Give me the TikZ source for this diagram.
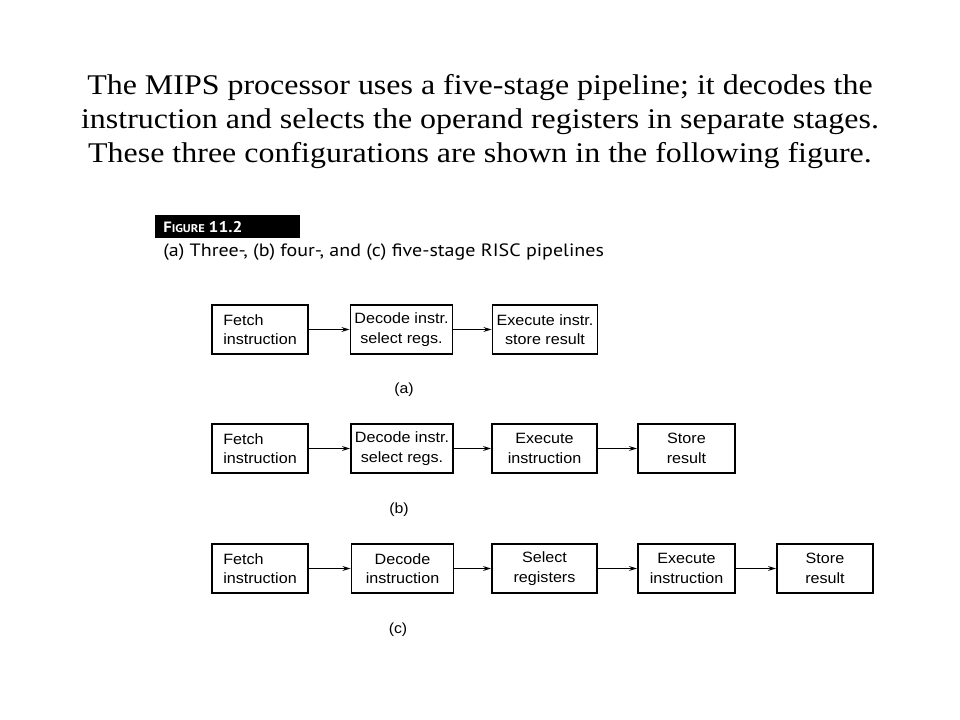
\documentclass[tikz,border=0pt]{standalone}
\usepackage{fontspec}
\setmainfont[FakeStretch=1.12]{Liberation Serif}
\newfontfamily\boxfont[FakeStretch=1.08]{Liberation Sans}
\newfontfamily\capfont[FakeStretch=1.12]{PT Sans}
\usetikzlibrary{arrows.meta}
\begin{document}
\begin{tikzpicture}[x=0.75pt,y=-0.75pt,
  stagebox/.style={draw, line width=1.4pt, inner sep=0pt, minimum height=36.75pt,
    align=center, font=\boxfont\fontsize{11.2pt}{14.5pt}\selectfont},
  c1/.style={stagebox, minimum width=72pt},
  c2/.style={stagebox, minimum width=76.5pt},
  c3/.style={stagebox, minimum width=78.75pt},
  c4/.style={stagebox, minimum width=72.75pt},
  c5/.style={stagebox, minimum width=72pt},
  flow/.style={line width=0.9pt, -{Stealth[length=6pt,width=3.6pt]}},
  sublabel/.style={font=\boxfont\fontsize{11pt}{13pt}\selectfont},
  titleline/.style={font=\fontsize{21.4pt}{25pt}\selectfont, inner sep=0pt}
]
\useasboundingbox (0,0) rectangle (960,720);
\fill[white] (0,0) rectangle (960,720);

% title
\node[titleline] (t1) at (480,88) {The MIPS processor uses a five-stage pipeline; it decodes the};
\node[titleline] (t2) at (480,122) {instruction and selects the operand registers in separate stages.};
\node[titleline] (t3) at (480,156) {These three configurations are shown in the following figure.};

% figure heading
\node[fill=black, minimum width=108.75pt, minimum height=17.25pt, inner sep=0pt] (fighead) at (227,226.5) {};
\node[anchor=west, text=white, font=\capfont\bfseries, inner sep=0pt] (figtext) at (163,227)
  {{\fontsize{11.2pt}{12pt}\selectfont F}{\fontsize{8.4pt}{10pt}\selectfont IGURE}\ {\fontsize{11.6pt}{12pt}\selectfont 11.2}};
\node[anchor=west, inner sep=0pt, font=\capfont\fontsize{13.4pt}{15pt}\selectfont] (caption) at (163,252)
  {(a) Three-, (b) four-, and (c) five-stage RISC pipelines};

% row (a)
\node[c1, align=left] (a1) at (260,329.5) {Fetch\\instruction};
\node[c2] (a2) at (401.5,329.5) {Decode instr.\\select regs.};
\node[c3] (a3) at (545,329.5) {Execute instr.\\store result};
\draw[flow] (a1) -- (a2);
\draw[flow] (a2) -- (a3);
\node[sublabel] (la) at (404,390) {(a)};

% row (b)
\node[c1, align=left] (b1) at (260,448.5) {Fetch\\instruction};
\node[c2] (b2) at (402,448.5) {Decode instr.\\select regs.};
\node[c3] (b3) at (544.5,448.5) {Execute\\instruction};
\node[c4] (b4) at (686.5,448.5) {Store\\result};
\draw[flow] (b1) -- (b2);
\draw[flow] (b2) -- (b3);
\draw[flow] (b3) -- (b4);
\node[sublabel] (lb) at (399,510) {(b)};

% row (c)
\node[c1, align=left] (d1) at (260,568.5) {Fetch\\instruction};
\node[c2] (d2) at (402.5,568.5) {Decode\\instruction};
\node[c3] (d3) at (544.5,568.5) {Select\\registers};
\node[c4] (d4) at (686.5,568.5) {Execute\\instruction};
\node[c5] (d5) at (825,568.5) {Store\\result};
\draw[flow] (d1) -- (d2);
\draw[flow] (d2) -- (d3);
\draw[flow] (d3) -- (d4);
\draw[flow] (d4) -- (d5);
\node[sublabel] (lc) at (398,630) {(c)};
\end{tikzpicture}
\end{document}
